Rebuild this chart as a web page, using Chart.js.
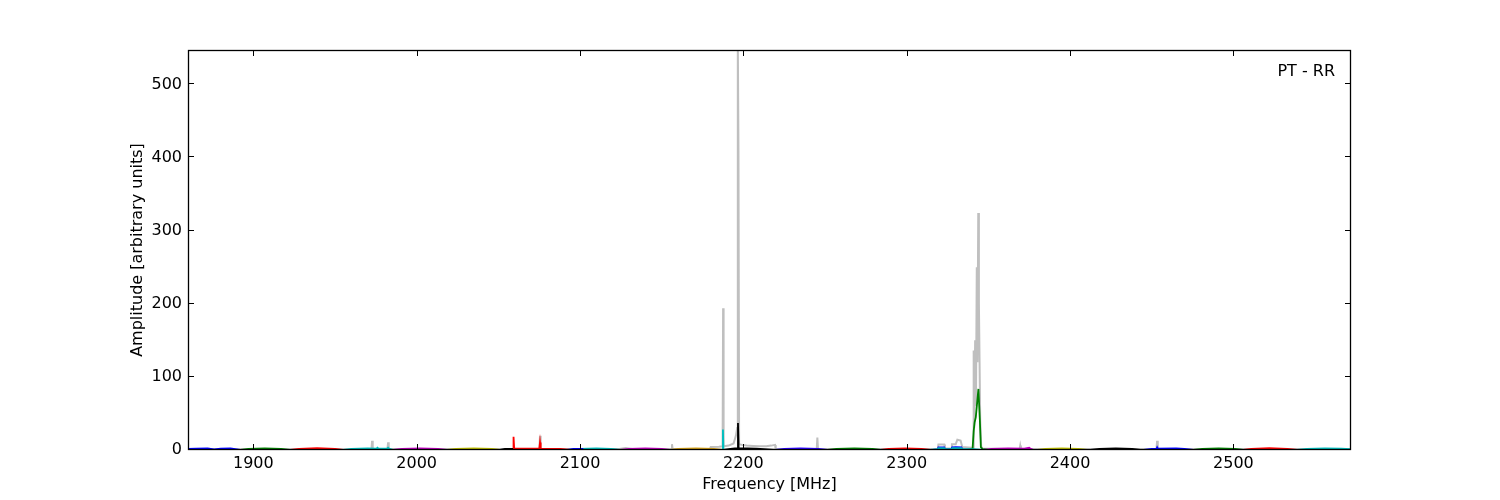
<!DOCTYPE html>
<html>
<head>
<meta charset="utf-8">
<script src="https://cdn.jsdelivr.net/npm/chart.js@4.4.1/dist/chart.umd.min.js"></script>
<style>
  html, body { margin: 0; padding: 0; background: #ffffff; }
  #wrap { width: 1500px; height: 500px; }
</style>
</head>
<body>
<div id="wrap"><canvas id="c" width="1500" height="500"></canvas></div>
<script>
// ---------- data ----------
const xTickValues = [1900, 2000, 2100, 2200, 2300, 2400, 2500];
const yTickValues = [0, 100, 200, 300, 400, 500];
const xRange = [1860, 2572];
const yRange = [0, 547];
const cornerLabel = 'PT - RR';

// grey (peak) spectrum: [frequency MHz, amplitude]
const greySpectrum = [
  [1860, 0.8], [1972.3, 1.0], [1972.7, 12.7], [1973.1, 1.0],
  [1982.1, 1.0], [1982.5, 10.5], [1982.9, 1.0],
  [2075.1, 1.0], [2075.5, 19.5], [2075.9, 1.0],
  [2123, 1.2], [2128, 2.8], [2133, 1.2],
  [2155.9, 1.0], [2156.3, 8.0], [2156.7, 1.0],
  [2179.5, 1.0], [2180, 4.0], [2185, 4.5], [2187.3, 5.0], [2187.6, 194], [2187.9, 5.0],
  [2191, 6.0], [2194, 9.0], [2195.5, 20], [2196.2, 30], [2196.6, 560], [2197.0, 410], [2197.4, 8.0],
  [2199, 7.0], [2202, 6.0], [2206, 5.5], [2210, 5.0], [2214, 5.0], [2217, 6.0], [2219.4, 7.0], [2219.8, 1.0],
  [2244.9, 1.0], [2245.3, 17], [2245.7, 1.0],
  [2319, 1.0], [2319.4, 7.5], [2323, 7.5], [2323.4, 2.0], [2327.3, 2.0], [2327.7, 8.0], [2330, 8.0],
  [2331, 14], [2333, 13], [2334, 4.0], [2339.8, 3.0],
  [2340.6, 3.0], [2341.0, 136], [2341.3, 30], [2341.9, 150], [2342.4, 60], [2342.9, 250], [2343.3, 120],
  [2343.8, 324], [2344.2, 200], [2344.6, 120], [2345.0, 40], [2345.6, 5.0], [2346.3, 2.0],
  [2369.1, 1.0], [2369.5, 6.0], [2369.9, 1.0],
  [2452.9, 1.0], [2453.3, 12.7], [2453.7, 1.0],
  [2572, 1.0]
];

// coloured sub-band traces: [frequency MHz, amplitude]
const band01 = [[1860, 1.4], [1865, 2.0], [1872, 2.1], [1876, 0.9], [1880, 2.0], [1886, 2.1], [1892, 0.3]];
const band02 = [[1892, 0.3], [1897, 1.6], [1907, 2.3], [1917, 1.6], [1922.5, 0.3]];
const band03 = [[1922.5, 0.3], [1928, 1.6], [1939, 2.4], [1950, 1.6], [1955, 0.3]];
const band04 = [[1955, 0.3], [1960, 1.6], [1970, 2.1], [1975.5, 2.0], [1976, 3.0], [1976.5, 2.0], [1982, 2.2], [1982.5, 3.2], [1983, 2.0], [1985.5, 0.3]];
const band05 = [[1985.5, 0.3], [1991, 1.6], [2002, 2.3], [2013, 1.6], [2018.6, 0.3]];
const band06 = [[2018.6, 0.3], [2024, 1.6], [2035, 2.3], [2046, 1.6], [2051, 0.3]];
const band07 = [[2051, 0.3], [2054, 1.4], [2059, 1.6]];
const band08 = [[2059, 0.6], [2059.3, 18.2], [2059.7, 1.8], [2075.1, 1.8], [2075.5, 10.4], [2075.9, 1.8], [2088, 1.6], [2094, 0.3]];
const band09 = [[2092, 0.3], [2096, 1.5], [2102, 1.6]];
const band10 = [[2094, 0.3], [2100, 1.6], [2110, 2.2], [2119, 1.6], [2124.5, 0.3]];
const band11 = [[2124.5, 0.3], [2130, 1.6], [2140, 2.3], [2150, 1.6], [2155, 0.3]];
const band12 = [[2155, 0.3], [2160, 1.6], [2171, 2.2], [2182, 1.6], [2187.5, 0.3]];
const band13 = [[2187.2, 0.3], [2187.5, 28], [2187.8, 0.5]];
const band14 = [[2187.5, 0.3], [2192, 1.6], [2196.3, 2.5], [2196.7, 37], [2197.1, 2.5], [2208, 1.8], [2219.6, 0.3]];
const band15 = [[2219.6, 0.3], [2225, 1.6], [2235, 2.3], [2246, 1.6], [2251.5, 0.3]];
const band16 = [[2251.5, 0.3], [2257, 1.6], [2268, 2.3], [2279, 1.6], [2284, 0.3]];
const band17 = [[2284, 0.3], [2289, 1.6], [2299, 2.3], [2309, 1.6], [2314.5, 0.3]];
const band18 = [[2314.5, 0.3], [2319, 1.3], [2319.5, 2.5], [2323, 2.5], [2323.5, 1.3], [2327.5, 1.3], [2328, 2.5], [2333.5, 2.5], [2334, 1.3], [2341, 1.0], [2347, 0.3]];
const band19 = [[2316, 0.3], [2319, 0.8], [2319.4, 3.6], [2323, 3.6], [2323.5, 0.8], [2327.3, 0.8], [2327.8, 3.5], [2330, 4.0], [2333.5, 3.5], [2334, 0.8], [2338, 0.3]];
const band20 = [[2336, 0.3], [2340.3, 1.0], [2341.0, 26], [2341.6, 38], [2342.3, 45], [2343.9, 83.5], [2344.8, 40], [2345.4, 4.0], [2346.5, 1.0], [2350, 0.3]];
const band21 = [[2347, 0.3], [2352, 1.6], [2362, 2.2], [2372, 1.8], [2375, 3.0], [2376, 1.5], [2377.5, 0.3]];
const band22 = [[2380, 0.3], [2385, 1.6], [2395, 2.3], [2405, 1.6], [2410.5, 0.3]];
const band23 = [[2412.5, 0.3], [2418, 1.6], [2428, 2.3], [2438, 1.6], [2443, 0.3]];
const band24 = [[2445, 0.3], [2450, 1.6], [2453, 2.0], [2453.3, 3.5], [2453.6, 2.0], [2465, 2.2], [2470, 1.6], [2475.5, 0.3]];
const band25 = [[2475.5, 0.3], [2481, 1.6], [2491, 2.3], [2501, 1.6], [2506, 0.3]];
const band26 = [[2506, 0.3], [2511, 1.6], [2522, 2.4], [2533, 1.6], [2539, 0.3]];
const band27 = [[2539, 0.3], [2545, 1.6], [2556, 2.3], [2566, 1.8], [2572, 1.2]];

const bands = [band01, band02, band03, band04, band05, band06, band07, band08, band09,
  band10, band11, band12, band13, band14, band15, band16, band17, band18, band19,
  band20, band21, band22, band23, band24, band25, band26, band27];

// styles
const bandColors = ['#0000ff', '#008000', '#ff0000', '#00bfbf', '#bf00bf', '#bfbf00', '#000000',
  '#ff0000', '#0000ff', '#00bfbf', '#bf00bf', '#d4a018', '#00bfbf', '#000000', '#2a00ff',
  '#008000', '#ff0000', '#00bfbf', '#0000ff', '#008000', '#bf00bf', '#bfbf00', '#000000',
  '#0000ff', '#008000', '#ff0000', '#00bfbf'];
const greyColor = '#bfbfbf';

// ---------- chart ----------
Chart.defaults.font.family = "'DejaVu Sans', sans-serif";
Chart.defaults.color = '#000000';

const toXY = arr => arr.map(p => ({x: p[0], y: p[1]}));

const datasets = [{
  data: toXY(greySpectrum),
  borderColor: greyColor,
  borderWidth: 2,
  pointRadius: 0,
  tension: 0,
  order: 2,
  clip: 0
}].concat(bands.map((b, i) => ({
  data: toXY(b),
  borderColor: bandColors[i],
  borderWidth: 1.8,
  pointRadius: 0,
  tension: 0,
  order: 1,
  clip: 0
})));

const framePlugin = {
  id: 'frame',
  afterDraw(chart) {
    const {ctx, chartArea: a, scales} = chart;
    ctx.save();
    ctx.strokeStyle = '#000';
    ctx.lineWidth = 1;
    const tl = 6;
    ctx.beginPath();
    xTickValues.forEach(v => {
      const px = Math.round(scales.x.getPixelForValue(v)) + 0.5;
      ctx.moveTo(px, a.bottom); ctx.lineTo(px, a.bottom - tl);
      ctx.moveTo(px, a.top); ctx.lineTo(px, a.top + tl);
    });
    yTickValues.forEach(v => {
      const py = Math.round(scales.y.getPixelForValue(v)) - 0.5;
      ctx.moveTo(a.left, py); ctx.lineTo(a.left + tl, py);
      ctx.moveTo(a.right, py); ctx.lineTo(a.right - tl, py);
    });
    ctx.stroke();
    ctx.lineWidth = 1.3;
    ctx.strokeRect(a.left + 0.5, a.top + 0.5, a.right - a.left - 1, a.bottom - a.top - 1);
    ctx.font = "16px 'DejaVu Sans'";
    ctx.fillStyle = '#000';
    ctx.textAlign = 'right';
    ctx.textBaseline = 'alphabetic';
    ctx.fillText(cornerLabel, a.right - 16, a.top + 26);
    ctx.restore();
  }
};

new Chart(document.getElementById('c'), {
  type: 'line',
  data: { datasets },
  options: {
    responsive: false,
    devicePixelRatio: 1,
    animation: false,
    events: [],
    layout: { padding: { top: 50, right: 149, bottom: 0, left: 0 } },
    plugins: { legend: { display: false }, tooltip: { enabled: false } },
    scales: {
      x: {
        type: 'linear',
        min: xRange[0],
        max: xRange[1],
        afterBuildTicks: s => { s.ticks = xTickValues.map(v => ({value: v})); },
        afterFit: s => { s.height = 50; },
        grid: { display: false, drawTicks: false },
        border: { display: false },
        ticks: { font: { size: 16 }, padding: 4.5, maxRotation: 0, autoSkip: false, color: '#000',
                 callback: v => String(v) },
        title: { display: true, text: 'Frequency [MHz]', font: { size: 16 }, color: '#000', padding: { top: 0, bottom: 6 } }
      },
      y: {
        type: 'linear',
        min: yRange[0],
        max: yRange[1],
        afterBuildTicks: s => { s.ticks = yTickValues.map(v => ({value: v})); },
        afterFit: s => { s.width = 188; },
        grid: { display: false, drawTicks: false },
        border: { display: false },
        ticks: { font: { size: 16 }, padding: 6, color: '#000', callback: v => String(v) },
        title: { display: true, text: 'Amplitude [arbitrary units]', font: { size: 16 }, color: '#000', padding: { top: 128, bottom: 0 } }
      }
    }
  },
  plugins: [framePlugin]
});
</script>
</body>
</html>
